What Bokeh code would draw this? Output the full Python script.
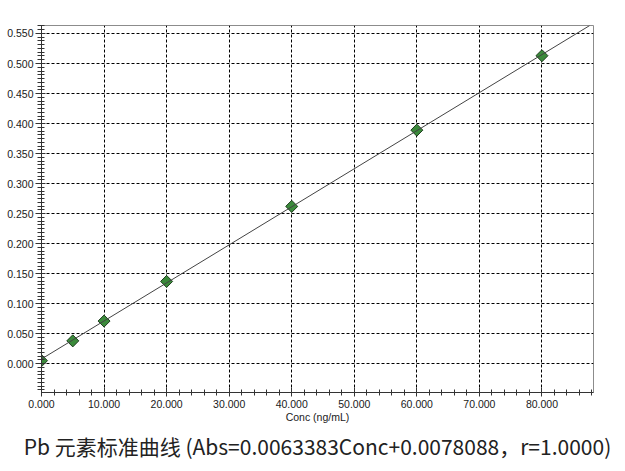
from bokeh.plotting import figure
from bokeh.models import (Range1d, SingleIntervalTicker, NumeralTickFormatter,
                          Slope, Title, ColumnDataSource)
from bokeh.embed import file_html
from bokeh.resources import INLINE

# Data
conc = [0, 5, 10, 20, 40, 60, 80]
absorb = [0.005, 0.038, 0.071, 0.137, 0.262, 0.389, 0.513]
slope = 0.0063383
intercept = 0.0078088
x_label = "Conc (ng/mL)"
title_text = "Pb 元素标准曲线 (Abs=0.0063383Conc+0.0078088，r=1.0000)"

tick_font = "'Liberation Sans Narrow', 'Arial Narrow', 'Liberation Sans', sans-serif"

p = figure(frame_width=552, frame_height=367,
           min_border_left=41, min_border_right=25, min_border_top=25,
           min_border_bottom=72,
           x_range=Range1d(0, 88.24), y_range=Range1d(-0.048, 0.5633),
           output_backend="svg", toolbar_location=None,
           background_fill_color="white", border_fill_color="white")

p.outline_line_color = "#8c8c8c"
p.outline_line_width = 1

# axes
p.xaxis.ticker = SingleIntervalTicker(interval=10, num_minor_ticks=5)
p.yaxis.ticker = SingleIntervalTicker(interval=0.05, num_minor_ticks=8)
p.xaxis.formatter = NumeralTickFormatter(format="0.000")
p.yaxis.formatter = NumeralTickFormatter(format="0.000")
for ax in (p.xaxis, p.yaxis):
    ax.axis_line_color = "#333333"
    ax.major_tick_line_color = "#333333"
    ax.minor_tick_line_color = "#333333"
    ax.major_label_text_font = tick_font
    ax.major_label_text_font_size = "10.5px"
    ax.major_label_text_color = "#1a1a1a"

p.yaxis.major_tick_in = 4
p.yaxis.major_tick_out = 6
p.yaxis.minor_tick_in = 3
p.yaxis.minor_tick_out = 4
p.yaxis.major_label_standoff = 2

p.xaxis.major_tick_in = 5
p.xaxis.major_tick_out = 4
p.xaxis.minor_tick_in = 3
p.xaxis.minor_tick_out = 3
p.xaxis.major_label_standoff = 3
p.xaxis.axis_label = x_label
p.xaxis.axis_label_text_font = tick_font
p.xaxis.axis_label_text_font_size = "10.5px"
p.xaxis.axis_label_text_font_style = "normal"
p.xaxis.axis_label_text_color = "#1a1a1a"
p.xaxis.axis_label_standoff = 0

# grid
for g in (p.xgrid, p.ygrid):
    g.grid_line_color = "#000000"
    g.grid_line_dash = "3 2"
    g.grid_line_width = 1

# regression line
p.add_layout(Slope(gradient=slope, y_intercept=intercept,
                   line_color="#444444", line_width=1))

src = ColumnDataSource(dict(x=conc, y=absorb))
p.scatter("x", "y", source=src, marker="square", angle=0.785398, size=8.5,
          fill_color="#3b8a3b", line_color="#1f3f1f", line_width=1)

t = Title(text=title_text, align="center", text_font="Noto Sans CJK SC",
          text_font_size="21px", text_font_style="normal", text_color="#222222",
          standoff=6)
p.add_layout(t, "below")

open("out.html", "w").write(file_html(p, INLINE))
